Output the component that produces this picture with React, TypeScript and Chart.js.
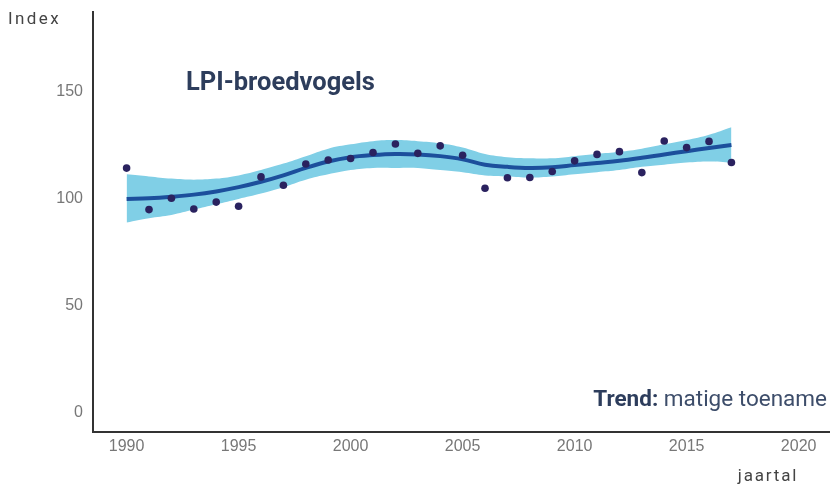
import React, { useEffect, useRef } from "react";
import { Chart, registerables } from "chart.js";

Chart.register(...registerables);

const YEARS = [1990, 1991, 1992, 1993, 1994, 1995, 1996, 1997, 1998, 1999, 2000, 2001, 2002, 2003, 2004, 2005, 2006, 2007, 2008, 2009, 2010, 2011, 2012, 2013, 2014, 2015, 2016, 2017];
const INDEX_VALUES = [114.4, 95.0, 100.3, 95.3, 98.5, 96.6, 110.3, 106.4, 116.3, 118.2, 118.9, 121.7, 125.7, 121.3, 124.8, 120.4, 105.0, 109.9, 110.0, 112.8, 117.8, 120.8, 122.1, 112.3, 127.1, 124.0, 126.9, 117.0];
const TREND_VALUES = [100, 100.3, 101, 102, 103.5, 105.5, 108, 111, 114.5, 117.5, 119.5, 120.5, 121, 120.8, 120, 118.5, 116, 115, 114.5, 114.8, 115.8, 116.8, 117.8, 119.2, 120.8, 122.3, 123.8, 125.2];
const UPPER_VALUES = [111.5, 110.5, 109.5, 109, 109.5, 111, 113.5, 116.5, 120, 123.5, 125.5, 127, 127.5, 127, 126, 124, 121, 119.5, 119, 119, 120, 121, 122, 123.5, 125.5, 127.5, 130, 133.5];
const LOWER_VALUES = [89, 91, 92.5, 95, 97.5, 100, 102.5, 105.5, 109, 111.5, 113.5, 114.5, 114.5, 114.5, 113.5, 112.5, 111, 110.5, 110, 110.5, 111.5, 112.5, 113.5, 115, 116, 117, 117.5, 117];
const X_TICKS = [1990, 1995, 2000, 2005, 2010, 2015, 2020];
const Y_TICKS = [0, 50, 100, 150];

const TITLE = "LPI-broedvogels";
const TREND_LABEL = "Trend:";
const TREND_TEXT = " matige toename";
const Y_LABEL = "Index";
const X_LABEL = "jaartal";

const toPts = (vals: number[]) => YEARS.map((y, i) => ({ x: y, y: vals[i] }));

export default function App() {
  const ref = useRef<HTMLCanvasElement | null>(null);

  useEffect(() => {
    if (!ref.current) return;
    Chart.defaults.font.family = "'Liberation Sans', Arial, sans-serif";

    const textPlugin = {
      id: "texts",
      afterDraw(chart: any) {
        const ctx = chart.ctx as CanvasRenderingContext2D;
        ctx.save();
        ctx.textBaseline = "alphabetic";
        // Index
        ctx.fillStyle = "#444";
        ctx.font = "17px Roboto";
        (ctx as any).letterSpacing = "2.4px";
        ctx.textAlign = "left";
        ctx.fillText(Y_LABEL, 8, 24);
        // jaartal
        ctx.font = "17px Roboto";
        (ctx as any).letterSpacing = "1.8px";
        ctx.textAlign = "center";
        ctx.fillText(X_LABEL, 768, 481);
        (ctx as any).letterSpacing = "0px";
        // title
        ctx.fillStyle = "#2d3d5c";
        ctx.font = "bold 25.5px Roboto";
        ctx.textAlign = "left";
        ctx.fillText(TITLE, 186, 90);
        // trend
        ctx.font = "bold 22.5px Roboto";
        const w1 = ctx.measureText(TREND_LABEL).width;
        ctx.font = "22.5px Roboto";
        const w2 = ctx.measureText(TREND_TEXT).width;
        const xEnd = 827;
        const xStart = xEnd - w1 - w2;
        ctx.fillStyle = "#2d3d5c";
        ctx.font = "bold 22.5px Roboto";
        ctx.fillText(TREND_LABEL, xStart, 406);
        ctx.fillStyle = "#3d4d6a";
        ctx.font = "22.5px Roboto";
        ctx.fillText(TREND_TEXT, xStart + w1, 406);
        ctx.restore();
      },
    };

    const chart = new Chart(ref.current, {
      type: "line",
      data: {
        datasets: [
          {
            label: "lower",
            data: toPts(LOWER_VALUES),
            borderWidth: 0,
            pointRadius: 0,
            tension: 0.4,
            fill: false,
            order: 4,
          },
          {
            label: "upper",
            data: toPts(UPPER_VALUES),
            borderWidth: 0,
            pointRadius: 0,
            tension: 0.4,
            fill: "-1",
            backgroundColor: "#80cfe6",
            order: 3,
          },
          {
            label: "trend",
            data: toPts(TREND_VALUES),
            borderColor: "#1c4f9c",
            borderWidth: 4,
            pointRadius: 0,
            tension: 0.4,
            fill: false,
            order: 2,
          },
          {
            type: "scatter",
            label: "index",
            data: toPts(INDEX_VALUES),
            pointRadius: 3.8,
            pointBackgroundColor: "#2a225f",
            pointBorderWidth: 0,
            showLine: false,
            order: 1,
          } as any,
        ],
      },
      options: {
        animation: false,
        responsive: false,
        devicePixelRatio: 1,
        layout: { autoPadding: false, padding: { top: 12, right: 0, left: 0, bottom: 0 } },
        plugins: {
          legend: { display: false },
          tooltip: { enabled: false },
          title: { display: false },
        },
        scales: {
          x: {
            type: "linear",
            min: 1988.5,
            max: 2021.4,
            grid: { display: false, drawTicks: false },
            border: { display: true, color: "#333", width: 2 },
            ticks: {
              color: "#777",
              font: { size: 16 },
              padding: 5,
              callback: (v: any) => String(v),
            },
            afterBuildTicks: (s: any) => {
              s.ticks = X_TICKS.map((v) => ({ value: v }));
            },
            afterFit: (s: any) => {
              s.height = 53;
              s.paddingLeft = 0;
              s.paddingRight = 0;
            },
          },
          y: {
            type: "linear",
            min: -9,
            max: 187.4,
            grid: { display: false, drawTicks: false },
            border: { display: true, color: "#333", width: 2 },
            ticks: {
              color: "#777",
              font: { size: 16 },
              padding: 10,
            },
            afterBuildTicks: (s: any) => {
              s.ticks = Y_TICKS.map((v) => ({ value: v }));
            },
            afterFit: (s: any) => {
              s.width = 93;
              s.paddingTop = 0;
              s.paddingBottom = 0;
            },
          },
        },
      },
      plugins: [textPlugin],
    });
    return () => chart.destroy();
  }, []);

  return (
    <div style={{ position: "fixed", left: 0, top: 0, width: 830, height: 485, background: "#fff" }}>
      <canvas ref={ref} width={830} height={485} style={{ width: 830, height: 485, display: "block" }} />
    </div>
  );
}
